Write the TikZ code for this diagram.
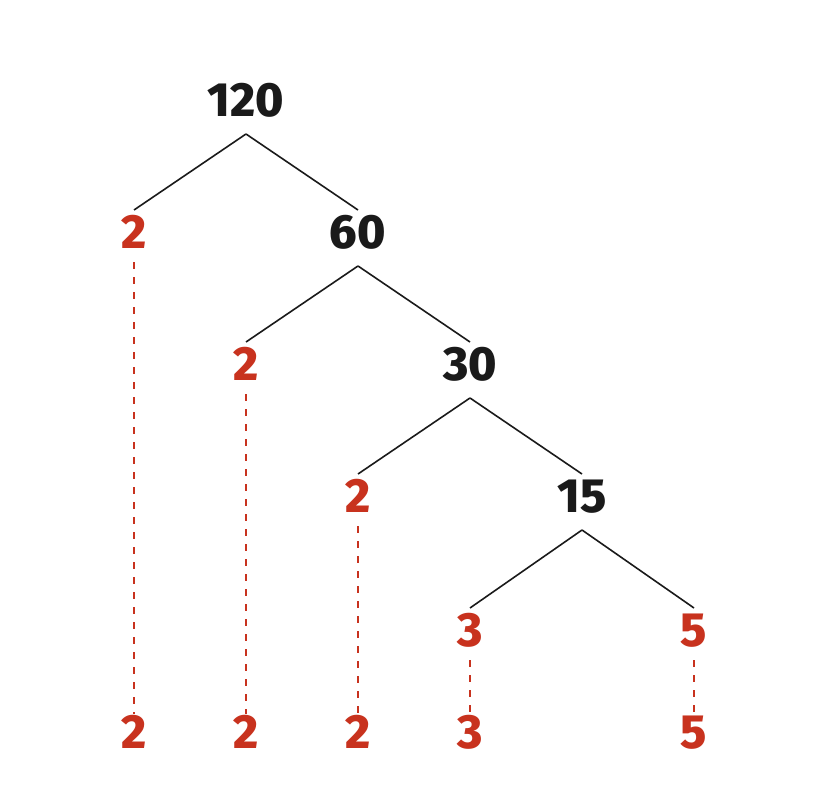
\documentclass[tikz,border=0pt]{standalone}
\usepackage{fontspec}
\setmainfont{Fira Sans}[BoldFont={* ExtraBold}]
\definecolor{numred}{HTML}{C8321E}
\definecolor{numblack}{HTML}{1A1A1A}
\tikzset{
  num/.style={font=\fontsize{48}{48}\selectfont\bfseries, inner sep=0pt, outer sep=0pt, minimum height=44pt, text depth=0pt},
  comp/.style={num, text=numblack},
  prime/.style={num, text=numred},
  branch/.style={draw=numblack, line width=1.6pt},
  dropline/.style={draw=numred, line width=2.2pt, dash pattern=on 7pt off 8pt},
}
\begin{document}
\begin{tikzpicture}[x=1pt,y=-1pt]
\useasboundingbox[fill=white] (0,0) rectangle (828,797);
\node[comp] (n120) at (246,100) {120};
\node[prime] (p1) at (134,232) {2};
\node[comp] (n60) at (358,232) {60};
\node[prime] (p2) at (246,364) {2};
\node[comp] (n30) at (470,364) {30};
\node[prime] (p3) at (358,496) {2};
\node[comp] (n15) at (582,496) {15};
\node[prime] (p4) at (470,630) {3};
\node[prime] (p5) at (694,630) {5};
\node[prime] (b1) at (134,732) {2};
\node[prime] (b2) at (246,732) {2};
\node[prime] (b3) at (358,732) {2};
\node[prime] (b4) at (470,732) {3};
\node[prime] (b5) at (694,732) {5};
\foreach \p/\c in {n120/p1,n120/n60,n60/p2,n60/n30,n30/p3,n30/n15,n15/p4,n15/p5}
  \draw[branch] ([yshift=-12pt]\p.south) -- (\c.north);
\foreach \a/\b in {p1/b1,p2/b2,p3/b3,p4/b4,p5/b5}
  \draw[dropline] ([yshift=-8pt]\a.south) -- ([yshift=-4pt]\b.north);
\end{tikzpicture}
\end{document}
